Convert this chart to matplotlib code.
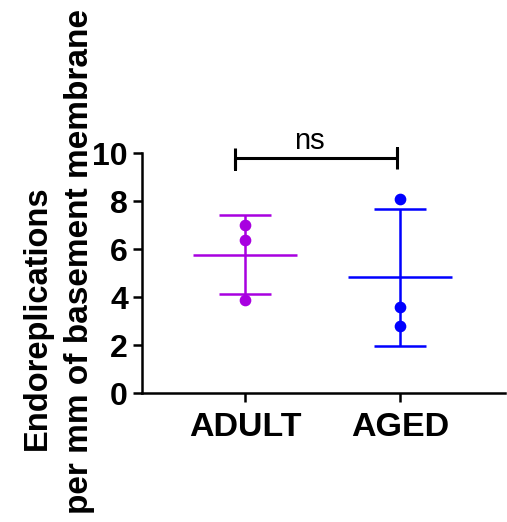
import matplotlib
matplotlib.use("Agg")
import matplotlib.pyplot as plt
import numpy as np

plt.rcParams['font.family'] = ['Liberation Sans', 'DejaVu Sans']

groups = ['ADULT', 'AGED']
adult = [7.0, 6.4, 3.9]
aged = [8.1, 3.6, 2.8]
colors = ['#A800E0', '#0000FF']
yticks = [0, 2, 4, 6, 8, 10]

fig = plt.figure(figsize=(5.07, 5.22), dpi=100)
ax = fig.add_axes([0.280, 0.2465, 0.716, 0.4598])

for i, (vals, col) in enumerate(zip([adult, aged], colors)):
    x = i + 1
    m = np.mean(vals)
    sd = np.std(vals, ddof=1)
    ax.hlines(m, x - 0.335, x + 0.335, color=col, lw=1.8)
    ax.errorbar(x, m, yerr=sd, color=col, lw=1.8, capsize=18.5, capthick=1.8, fmt='none')
    ax.plot([x] * len(vals), vals, 'o', color=col, ms=7.4, zorder=3)

# significance bracket
ax.plot([0.935, 0.935, 0.935, 1.98, 1.98, 1.98], [10.21, 9.33, 9.82, 9.82, 10.21, 9.33],
        color='black', lw=2.2, clip_on=False, solid_capstyle='butt')
ax.text(1.416, 10.18, 'ns', ha='center', va='baseline', fontsize=21)

ax.set_xlim(0.335, 2.677)
ax.set_ylim(0, 10)
ax.set_yticks(yticks)
ax.set_xticks([1, 2])
ax.set_xticklabels(groups)
for s in ['top', 'right']:
    ax.spines[s].set_visible(False)
for s in ['left', 'bottom']:
    ax.spines[s].set_linewidth(1.8)
ax.tick_params(axis='both', length=6.5, width=1.8, pad=3.5)
ax.tick_params(axis='y', labelsize=23)
ax.tick_params(axis='x', labelsize=24.5, pad=7)
for lab in ax.get_xticklabels() + ax.get_yticklabels():
    lab.set_fontweight('bold')

fig.text(37 / 507, 1 - 318 / 522, 'Endoreplications', rotation=90, ha='center', va='center',
         fontsize=23.5, fontweight='bold')
fig.text(80 / 507, 1 - 262 / 522, 'per mm of basement membrane', rotation=90, ha='center', va='center',
         fontsize=24, fontweight='bold')

fig.savefig('out.png', dpi=100)
